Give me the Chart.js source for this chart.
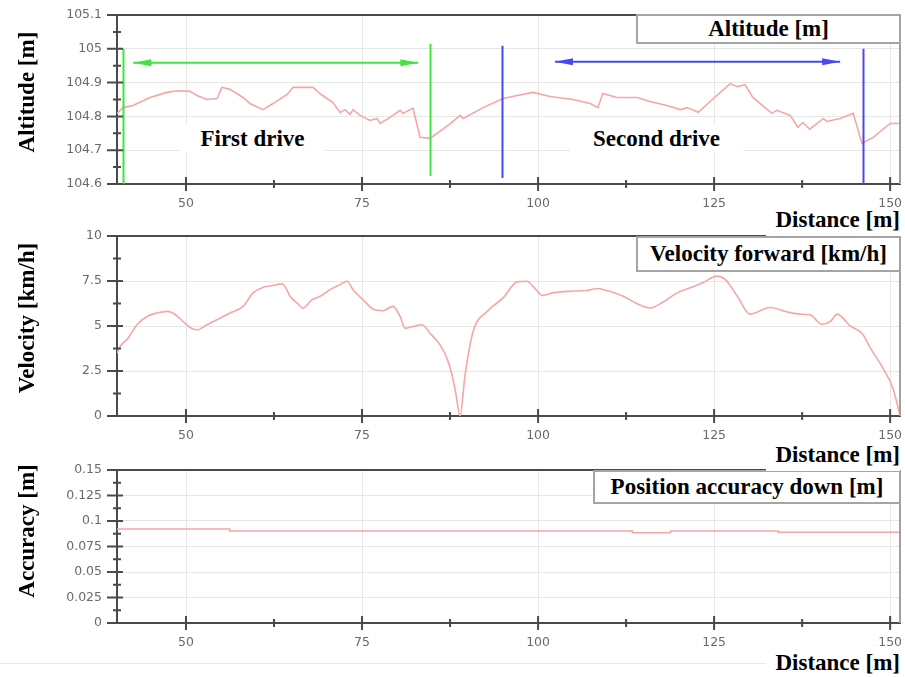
<!DOCTYPE html>
<html>
<head>
<meta charset="utf-8">
<script src="https://cdn.jsdelivr.net/npm/chart.js@4.4.1/dist/chart.umd.min.js"></script>
<style>
body { margin: 0; background: #fff; width: 905px; height: 677px; overflow: hidden; position: relative; }
canvas { position: absolute; left: 0; }
.t { position: absolute; font-family: "Liberation Serif", "Times New Roman", serif; font-weight: bold; font-size: 23px; color: #000; white-space: nowrap; }
.ytitle { width: 220px; height: 28px; line-height: 28px; text-align: center; transform: rotate(-90deg); }
.dist { left: 766px; width: 134px; text-align: right; background: #fff; }
.box { background: #fff; border: 2px solid #a4a4a4; box-sizing: border-box; text-align: center; }
.drive { background: #fff; text-align: center; height: 27px; line-height: 27px; }
</style>
</head>
<body>
<canvas id="altChart" width="905" height="222" style="top:0px"></canvas>
<canvas id="velChart" width="905" height="222" style="top:226px"></canvas>
<canvas id="accChart" width="905" height="200" style="top:460px"></canvas>

<div class="t ytitle" style="left:-83px; top:78px">Altitude [m]</div>
<div class="t ytitle" style="left:-83px; top:304px">Velocity [km/h]</div>
<div class="t ytitle" style="left:-83px; top:517px">Accuracy [m]</div>

<div class="t box" style="left:636px; top:14px; width:265px; height:30px; line-height:26px">Altitude [m]</div>
<div class="t box" style="left:636px; top:236px; width:265px; height:36px; line-height:32px">Velocity forward [km/h]</div>
<div class="t box" style="left:593px; top:470px; width:308px; height:34px; line-height:30px">Position accuracy down [m]</div>

<div class="t drive" style="left:180px; top:125px; width:145px">First drive</div>
<div class="t drive" style="left:570px; top:125px; width:173px">Second drive</div>

<div style="position:absolute; left:0; top:663px; width:766px; height:1px; background:#e4eaf2"></div>
<div class="t dist" style="top:207px; height:29px; line-height:25px">Distance [m]</div>
<div class="t dist" style="top:441px; height:30px; line-height:28px">Distance [m]</div>
<div class="t dist" style="top:649px; height:28px; line-height:28px">Distance [m]</div>

<script>
// axis ranges and tick labels
const distMin = 40.2;
const distMax = 151.4;
const distTicks = [50, 75, 100, 125, 150];
const altTicks = [104.6, 104.7, 104.8, 104.9, 105, 105.1];
const velTicks = [0, 2.5, 5, 7.5, 10];
const accTicks = [0, 0.025, 0.05, 0.075, 0.1, 0.125, 0.15];

// altitude [m] over distance [m]
const altDist = [40.2, 41.05, 42.47, 44.89, 47.3, 48.72, 50.57, 51.56, 52.98, 54.4, 55.1, 56.25, 58.1, 59.1, 60.94, 62.36, 64.35, 65.2, 68.04, 69.04, 70.88, 71.88, 72.59, 73.3, 73.72, 74.72, 76.14, 77.13, 77.56, 78.98, 80.4, 80.82, 82.25, 83.24, 84.66, 87.5, 88.92, 89.35, 92.2, 95.03, 97.02, 99.3, 101.7, 104.97, 107.4, 108.5, 109.2, 111.2, 114.06, 115.9, 118.3, 120.2, 121.2, 122.75, 124.9, 127.3, 128.3, 129.4, 130.5, 133.2, 133.9, 135.8, 136.9, 137.6, 138.6, 140.5, 141, 142.9, 144.75, 146, 147.6, 150, 151.4];
const altValue = [104.809, 104.826, 104.832, 104.856, 104.871, 104.876, 104.874, 104.862, 104.85, 104.853, 104.886, 104.88, 104.856, 104.838, 104.82, 104.838, 104.865, 104.886, 104.886, 104.867, 104.841, 104.812, 104.82, 104.806, 104.82, 104.803, 104.788, 104.794, 104.779, 104.797, 104.818, 104.809, 104.824, 104.738, 104.735, 104.778, 104.803, 104.794, 104.826, 104.853, 104.862, 104.871, 104.859, 104.85, 104.838, 104.826, 104.868, 104.856, 104.856, 104.844, 104.832, 104.82, 104.826, 104.812, 104.853, 104.897, 104.888, 104.894, 104.856, 104.809, 104.818, 104.803, 104.768, 104.782, 104.762, 104.794, 104.785, 104.794, 104.809, 104.72, 104.738, 104.779, 104.779];

// velocity forward [km/h]
const velDist = [40.2, 40.63, 41.76, 43.04, 44.46, 45.88, 47.3, 48.15, 49.58, 50.57, 51.56, 52.98, 54.4, 56.25, 58.1, 59.52, 60.94, 62.36, 63.64, 64.06, 64.77, 65.77, 66.62, 67.9, 69.04, 70.46, 71.88, 72.87, 73.72, 75.14, 76.56, 77.98, 79.4, 80.4, 81.1, 82.25, 83.52, 84.66, 86.08, 87.07, 87.7, 88.3, 88.92, 89.63, 90.77, 92.76, 95.03, 97.02, 98.44, 99.3, 100.7, 102.1, 104.5, 106.96, 108.4, 109.8, 112.1, 114.06, 115.9, 117.76, 119.75, 121.6, 123.4, 125.4, 126.6, 128.3, 130.1, 132.96, 135.4, 137.2, 138.6, 140.3, 141.5, 142.5, 144.3, 146, 147.2, 149, 150.4, 151.4];
const velValue = [3.49, 3.85, 4.32, 5.07, 5.53, 5.72, 5.81, 5.72, 5.25, 4.92, 4.79, 5.07, 5.35, 5.72, 6.09, 6.84, 7.15, 7.25, 7.34, 7.2, 6.65, 6.28, 6.0, 6.46, 6.65, 7.02, 7.3, 7.49, 7.02, 6.46, 5.94, 5.85, 6.09, 5.53, 4.88, 4.97, 5.07, 4.6, 3.95, 3.2, 2.4, 1.3, 0, 2.27, 4.69, 5.81, 6.56, 7.45, 7.49, 7.2, 6.7, 6.84, 6.93, 6.97, 7.08, 6.97, 6.65, 6.24, 6.0, 6.33, 6.84, 7.12, 7.4, 7.77, 7.58, 6.65, 5.66, 6.03, 5.78, 5.66, 5.63, 5.1, 5.25, 5.66, 5.01, 4.6, 3.77, 2.65, 1.53, 0.04];

// position accuracy down [m]
const accDist = [40.2, 56.2, 56.2, 113.4, 113.4, 118.8, 118.8, 134.1, 134.1, 151.4];
const accValue = [0.0922, 0.0922, 0.0902, 0.0902, 0.0885, 0.0885, 0.0902, 0.0902, 0.0889, 0.0889];

// drive markers on the altitude plot
const markX = [41.1, 84.65, 94.85, 146.2];
const markLow = [104.6, 104.624, 104.618, 104.6];
const markHigh = [105.0, 105.015, 105.009, 105.0];
const arrowFrom = [42.5, 102.4];
const arrowTo = [83.0, 142.9];
const arrowLevel = [104.959, 104.962];

const markColors = ["#3de63d", "#3de63d", "#4848f0", "#4848f0"];
const arrowColors = ["#3de63d", "#4848f0"];

function fmt(v) {
    return String(parseFloat(v.toFixed(3)));
}

// crossing tick marks, top border and light right border
const frame = {
    id: "frame",
    afterDraw(chart) {
        const { ctx, chartArea: a, scales: { x, y } } = chart;
        ctx.save();
        ctx.lineWidth = 2;
        ctx.strokeStyle = "#a0a0a0";
        ctx.beginPath();
        ctx.moveTo(a.right, a.top);
        ctx.lineTo(a.right, a.bottom);
        ctx.stroke();

        ctx.strokeStyle = "#4a4a4a";
        ctx.beginPath();
        ctx.moveTo(a.left, a.top);
        ctx.lineTo(a.right, a.top);

        const yv = y.ticks.map(t => t.value);
        yv.forEach((v, i) => {
            const py = y.getPixelForValue(v);
            ctx.moveTo(a.left - 10, py);
            ctx.lineTo(a.left + 6, py);
            if (i < yv.length - 1) {
                const pm = y.getPixelForValue((v + yv[i + 1]) / 2);
                ctx.moveTo(a.left - 4, pm);
                ctx.lineTo(a.left + 4, pm);
            }
        });

        const xv = x.ticks.map(t => t.value);
        xv.forEach((v, i) => {
            const px = x.getPixelForValue(v);
            ctx.moveTo(px, a.bottom - 7);
            ctx.lineTo(px, a.bottom + 7);
            if (i < xv.length - 1) {
                const pm = x.getPixelForValue((v + xv[i + 1]) / 2);
                ctx.moveTo(pm, a.bottom - 4);
                ctx.lineTo(pm, a.bottom + 4);
            }
        });
        ctx.stroke();
        ctx.restore();
    }
};

// green / blue drive limits and arrows
const driveMarks = {
    id: "driveMarks",
    afterDatasetsDraw(chart) {
        const { ctx, scales: { x, y } } = chart;
        ctx.save();
        ctx.lineWidth = 2;
        markX.forEach((v, i) => {
            const px = Math.round(x.getPixelForValue(v)) + 0.5;
            ctx.strokeStyle = markColors[i];
            ctx.beginPath();
            ctx.moveTo(px, y.getPixelForValue(markLow[i]));
            ctx.lineTo(px, y.getPixelForValue(markHigh[i]));
            ctx.stroke();
        });
        arrowFrom.forEach((v, i) => {
            const x1 = x.getPixelForValue(v);
            const x2 = x.getPixelForValue(arrowTo[i]);
            const py = y.getPixelForValue(arrowLevel[i]);
            ctx.strokeStyle = arrowColors[i];
            ctx.fillStyle = arrowColors[i];
            ctx.beginPath();
            ctx.moveTo(x1, py);
            ctx.lineTo(x2, py);
            ctx.stroke();
            ctx.beginPath();
            ctx.moveTo(x1, py);
            ctx.lineTo(x1 + 18, py - 3.5);
            ctx.lineTo(x1 + 18, py + 3.5);
            ctx.closePath();
            ctx.moveTo(x2, py);
            ctx.lineTo(x2 - 18, py - 3.5);
            ctx.lineTo(x2 - 18, py + 3.5);
            ctx.closePath();
            ctx.fill();
        });
        ctx.restore();
    }
};

function noPad(s) {
    s.paddingTop = 0;
    s.paddingBottom = 0;
    s.paddingLeft = 0;
    s.paddingRight = 0;
}

function makePanel(id, dist, values, yTicks, padTop, xHeight, smooth, extra) {
    const ctx = document.getElementById(id);
    return new Chart(ctx, {
        type: "line",
        data: {
            datasets: [{
                data: dist.map((d, i) => ({ x: d, y: values[i] })),
                borderColor: "#f6a6a6",
                borderWidth: 1.6,
                pointRadius: 0,
                cubicInterpolationMode: smooth ? "monotone" : "default",
                tension: 0
            }]
        },
        options: {
            responsive: false,
            animation: false,
            events: [],
            layout: { padding: { top: padTop, right: 5, left: 0, bottom: 0 } },
            plugins: { legend: { display: false }, tooltip: { enabled: false } },
            scales: {
                x: {
                    type: "linear",
                    min: distMin,
                    max: distMax,
                    afterBuildTicks: s => { s.ticks = distTicks.map(v => ({ value: v })); },
                    afterFit: s => { s.height = xHeight; noPad(s); },
                    grid: { color: "#e6e6e6", drawTicks: false },
                    border: { color: "#4a4a4a", width: 2 },
                    ticks: {
                        padding: 12,
                        color: "#6a6a6a",
                        font: { family: "DejaVu Sans", size: 12.5 },
                        callback: v => fmt(v)
                    }
                },
                y: {
                    type: "linear",
                    min: yTicks[0],
                    max: yTicks[yTicks.length - 1],
                    afterBuildTicks: s => { s.ticks = yTicks.map(v => ({ value: v })); },
                    afterFit: s => { s.width = 117; noPad(s); },
                    grid: { color: "#e6e6e6", drawTicks: false },
                    border: { color: "#4a4a4a", width: 2 },
                    ticks: {
                        padding: 15,
                        autoSkip: false,
                        color: "#6a6a6a",
                        font: { family: "DejaVu Sans", size: 12.5 },
                        callback: v => fmt(v)
                    }
                }
            }
        },
        plugins: [frame].concat(extra || [])
    });
}

makePanel("altChart", altDist, altValue, altTicks, 15, 38, false, [driveMarks]);
makePanel("velChart", velDist, velValue, velTicks, 10, 32, true);
makePanel("accChart", accDist, accValue, accTicks, 10, 37, false);
</script>
</body>
</html>
